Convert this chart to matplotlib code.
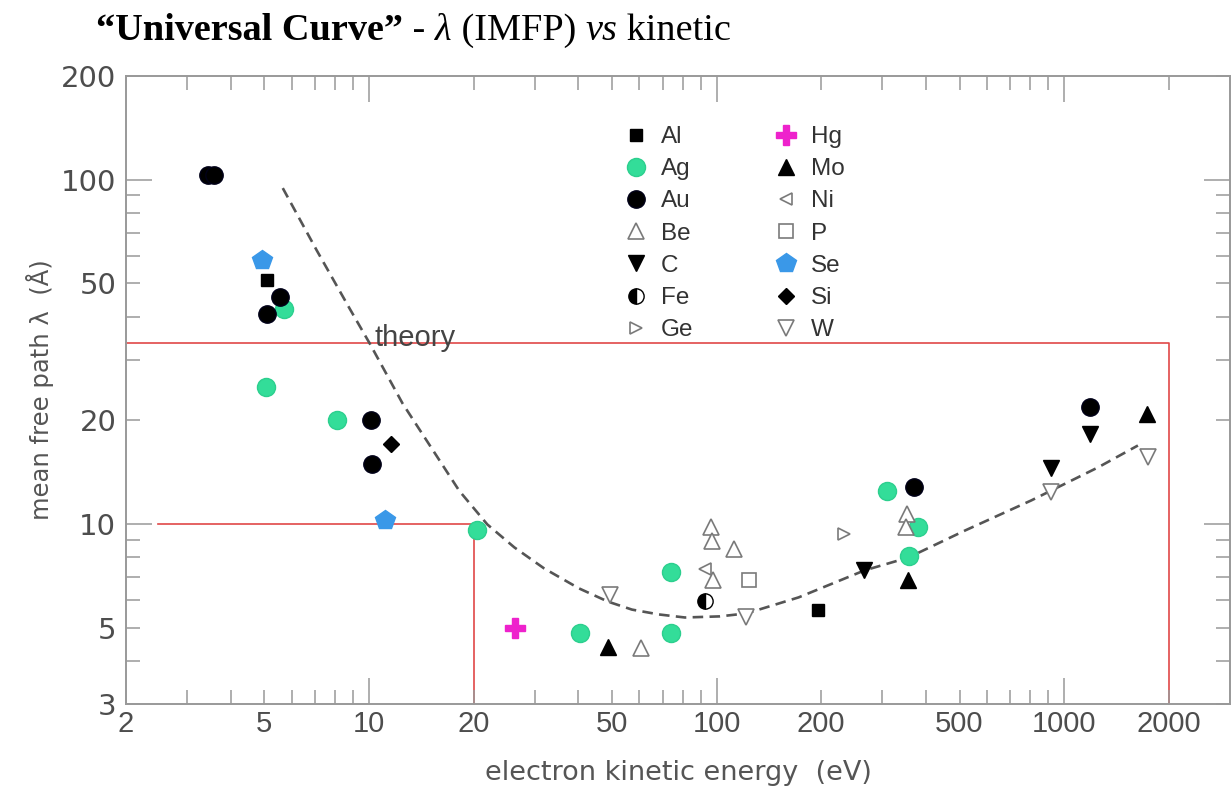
import matplotlib
matplotlib.use("Agg")
import matplotlib.pyplot as plt
from matplotlib.ticker import FixedLocator, FuncFormatter

# ---- measured mean free paths (energy in eV, lambda in Angstrom) ----
al_E = [5.1, 196]
al_L = [51, 5.63]
ag_E = [5.7, 5.05, 8.1, 20.5, 40.4, 73.8, 73.8, 309, 358, 381]
ag_L = [42, 25, 20, 9.6, 4.83, 7.25, 4.83, 12.5, 8.06, 9.8]
au_E = [3.45, 3.58, 5.1, 5.56, 10.15, 10.2, 371, 1184]
au_L = [103, 103, 40.6, 45.7, 20, 14.9, 12.8, 21.8]
be_E = [60.6, 96.3, 97.1, 112, 97.7, 352, 350]
be_L = [4.36, 9.8, 8.95, 8.47, 6.86, 10.7, 9.8]
c_E = [266, 915, 1188]
c_L = [7.33, 14.5, 18.3]
fe_E = [92.6]
fe_L = [5.99]
ge_E = [233]
ge_L = [9.33]
hg_E = [26.3]
hg_L = [5.0]
mo_E = [48.8, 355, 1734]
mo_L = [4.39, 6.86, 20.9]
ni_E = [92.6]
ni_L = [7.41]
p_E = [124]
p_L = [6.86]
se_E = [4.91, 11.15]
se_L = [58.6, 10.3]
si_E = [11.6]
si_L = [17.1]
w_E = [49.5, 121.5, 919, 1742]
w_L = [6.22, 5.36, 12.4, 15.6]

# theory curve
theory_E = [5.65, 7.07, 8.79, 10.04, 12.49, 15.22, 18.19, 21.9, 26.2, 31.9,
            40.2, 48.7, 57.1, 68.3, 81.1, 102.2, 122.1, 172.2, 266.4, 356.5,
            519.6, 803.6, 1252, 1630]
theory_L = [94.5, 62.4, 42.3, 33.5, 22.4, 16.47, 12.48, 9.97, 8.55, 7.43,
            6.50, 5.95, 5.64, 5.46, 5.35, 5.39, 5.50, 6.12, 7.33, 7.99,
            9.58, 11.7, 14.6, 16.9]

# guide lines
guide_hi_L = 33.5
guide_lo_L = 10
guide_lo_E0 = 2.47
guide_lo_E1 = 20
guide_hi_E1 = 2000

x_labeled = [2, 5, 10, 20, 50, 100, 200, 500, 1000, 2000]
y_labeled = [3, 5, 10, 20, 50, 100, 200]

W, H = 1232, 790
fig = plt.figure(figsize=(W / 100, H / 100), dpi=100)
ax = fig.add_axes([126 / W, 1 - 704 / H, 1104 / W, 628 / H])
ax.set_xscale("log")
ax.set_yscale("log")
ax.set_xlim(2, 3000)
ax.set_ylim(3, 200)

grey = "#999999"
for s in ax.spines.values():
    s.set_color(grey)
    s.set_linewidth(1.4)

x_major = [10, 100, 1000]
x_minor = [m * d for d in (1, 10, 100, 1000) for m in range(2, 10) if m * d < 3000]
y_major = [10, 100]
y_minor = [m * d for d in (1, 10, 100) for m in range(2, 10) if 3 <= m * d <= 200]

ax.xaxis.set_major_locator(FixedLocator(x_major))
ax.xaxis.set_minor_locator(FixedLocator(x_minor))
ax.yaxis.set_major_locator(FixedLocator(y_major))
ax.yaxis.set_minor_locator(FixedLocator(y_minor))


def fmt_factory(labeled):
    def f(v, pos):
        for l in labeled:
            if abs(v - l) / l < 1e-6:
                return "%d" % l
        return ""
    return FuncFormatter(f)


for axis, lab in ((ax.xaxis, x_labeled), (ax.yaxis, y_labeled)):
    axis.set_major_formatter(fmt_factory(lab))
    axis.set_minor_formatter(fmt_factory(lab))

ax.tick_params(which="both", direction="in", top=True, right=True,
               color=grey, labelcolor="#4d4d4d")
ax.tick_params(which="major", length=19, width=1.1)
ax.tick_params(which="minor", length=10, width=1.1)
ax.tick_params(axis="x", which="both", pad=4, labelsize=21)
ax.tick_params(axis="y", which="both", pad=7, labelsize=21)
for t in ax.get_xticklabels(which="both"):
    t.set_fontfamily("Liberation Sans")
for t in ax.get_yticklabels(which="both"):
    t.set_fontfamily("Liberation Sans Narrow")

# red guide lines
red = "#e04848"
ax.plot([2, guide_hi_E1, guide_hi_E1], [guide_hi_L, guide_hi_L, 3],
        color=red, lw=1.2, zorder=1, clip_on=False)
ax.plot([guide_lo_E0, guide_lo_E1, guide_lo_E1], [guide_lo_L, guide_lo_L, 3],
        color=red, lw=1.2, zorder=1, clip_on=False)

# theory curve
ax.plot(theory_E, theory_L, color="#555555", lw=1.9, ls=(0, (4, 2.4)), zorder=2)
ax.text(10.4, 34.6, "theory", fontsize=21, color="#444444",
        family="Liberation Sans", va="center", ha="left", zorder=3)

open_c = "#7a7a7a"
series = [
    ("Al", al_E, al_L, dict(marker="s", ms=9, mfc="black", mec="black")),
    ("Ag", ag_E, ag_L, dict(marker="o", ms=13, mfc="#33dd99", mec="#2ccf8e")),
    ("Au", au_E, au_L, dict(marker="o", ms=12.5, mfc="black", mec="#000018")),
    ("Be", be_E, be_L, dict(marker="^", ms=11, mfc="white", mec=open_c, mew=1.2)),
    ("C", c_E, c_L, dict(marker="v", ms=11, mfc="black", mec="black")),
    ("Fe", fe_E, fe_L, dict(marker="o", ms=11, mfc="black", mfcalt="white",
                            fillstyle="left", mec="black", mew=1.0)),
    ("Ge", ge_E, ge_L, dict(marker=">", ms=8, mfc="white", mec=open_c, mew=1.2)),
    ("Hg", hg_E, hg_L, dict(marker="P", ms=15, mfc="#ee22cc", mec="#ee22cc")),
    ("Mo", mo_E, mo_L, dict(marker="^", ms=11, mfc="black", mec="black")),
    ("Ni", ni_E, ni_L, dict(marker="<", ms=8, mfc="white", mec=open_c, mew=1.2)),
    ("P", p_E, p_L, dict(marker="s", ms=10, mfc="white", mec=open_c, mew=1.2)),
    ("Se", se_E, se_L, dict(marker="p", ms=15, mfc="#3a98e8", mec="#3a98e8")),
    ("Si", si_E, si_L, dict(marker="D", ms=8, mfc="black", mec="black")),
    ("W", w_E, w_L, dict(marker="v", ms=11, mfc="white", mec=open_c, mew=1.2)),
]

handles = []
for name, xs, ys, st in series:
    ln, = ax.plot(xs, ys, ls="none", label=name, zorder=4, **st)
    handles.append(ln)

leg = ax.legend(handles=handles, ncol=2, frameon=False,
                loc="upper left", bbox_to_anchor=(624 / W, 1 - 126 / H),
                bbox_transform=fig.transFigure, borderpad=0, borderaxespad=0,
                handlelength=1.0, handletextpad=0.52, columnspacing=3.3,
                labelspacing=0.42, prop=dict(family="Liberation Sans", size=17.5))
for t in leg.get_texts():
    t.set_color("#333333")

# axis labels
fig.text(40 / W, 1 - 390 / H, "mean free path λ  (Å)", rotation=90,
         ha="center", va="center", fontsize=17.5, color="#555555",
         family="Liberation Sans Narrow")
fig.text(678 / W, 1 - 773 / H, "electron kinetic energy  (eV)",
         ha="center", va="center", fontsize=19.5, color="#555555",
         family="Liberation Sans Narrow")

# title built from differently styled pieces on one baseline
pieces = [("\u201cUniversal Curve\u201d", "normal", "bold"),
          (" - ", "normal", "normal"),
          ("\u03bb", "italic", "normal"),
          (" (IMFP) ", "normal", "normal"),
          ("vs", "italic", "normal"),
          (" kinetic", "normal", "normal")]
title_fs = 27.5
title_left = 96
baseline_y = 1 - 40 / H
texts = []
for s, style, weight in pieces:
    t = fig.text(0, baseline_y, s.replace(" ", "\u00a0"), fontsize=title_fs,
                 family="Liberation Serif", style=style, weight=weight,
                 va="baseline", ha="left", color="black")
    texts.append(t)
fig.canvas.draw()
r = fig.canvas.get_renderer()
x = title_left
for t in texts:
    t.set_x(x / W)
    x += t.get_window_extent(r).width

fig.savefig("out.png", dpi=100)
